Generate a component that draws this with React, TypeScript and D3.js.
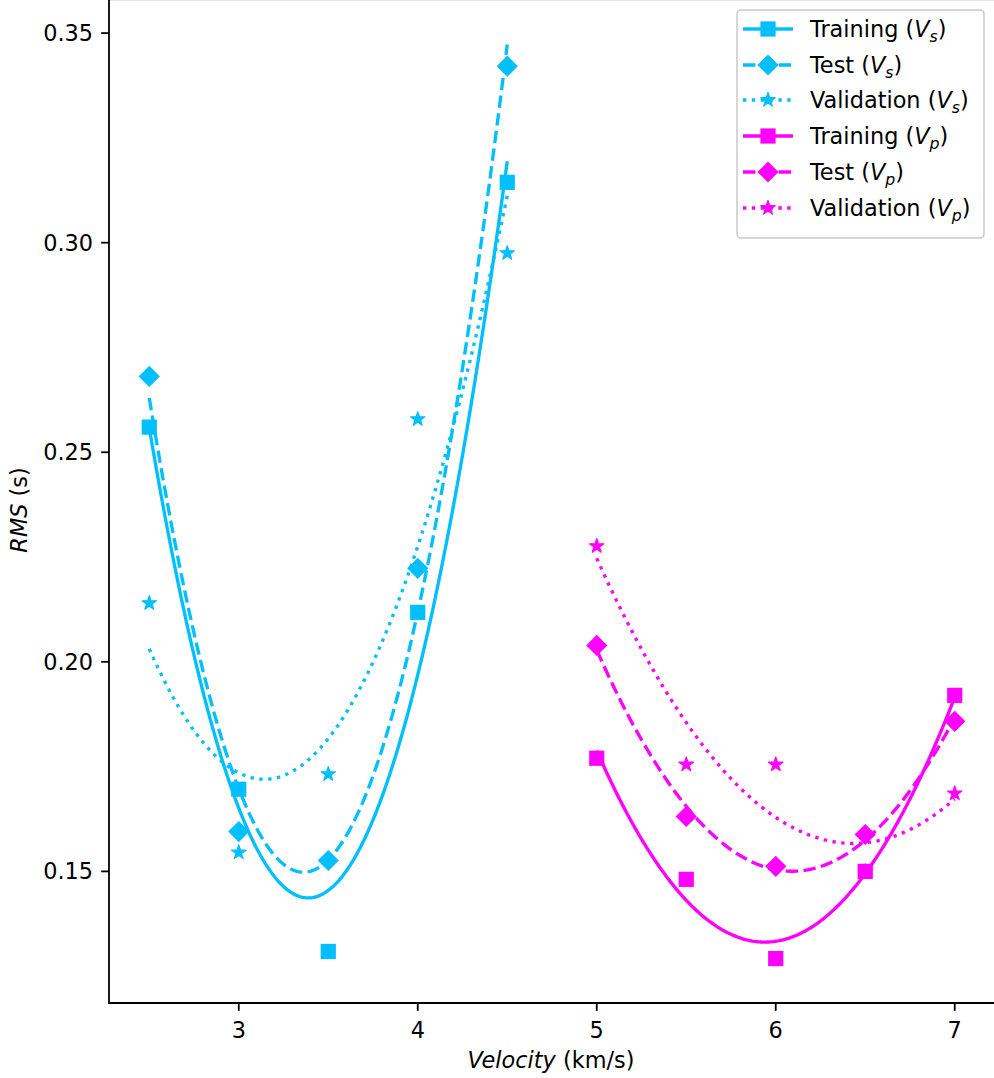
import React from 'react';
import * as d3 from 'd3';

const W = 994;
const H = 1078;

// velocities sampled for the two wave types
const xVs = [2.5, 3, 3.5, 4, 4.5];
const xVp = [5, 5.5, 6, 6.5, 7];

// RMS values
const trainVs = [0.256, 0.1696, 0.1309, 0.2118, 0.3144];
const testVs = [0.2681, 0.1595, 0.1526, 0.2223, 0.3421];
const validVs = [0.214, 0.1545, 0.1732, 0.2579, 0.2975];
const trainVp = [0.177, 0.1481, 0.1292, 0.15, 0.192];
const testVp = [0.2039, 0.1631, 0.1512, 0.1588, 0.1858];
const validVp = [0.2276, 0.1755, 0.1755, 0.15, 0.1686];

const xTicks = [3, 4, 5, 6, 7];
const yTicks = [0.15, 0.2, 0.25, 0.3, 0.35];

const CYAN = '#00bfff';
const MAGENTA = '#ff00ff';
const FONT = '"DejaVu Sans", sans-serif';
const FS = 22.4;
const LW = 3.35;
const DASHED = '12.4,5.4';
const DOTTED = '3.35,5.5';

// least squares quadratic fit, like np.polyfit(x, y, 2)
function quadFit(xs: number[], ys: number[]) {
  const s = [0, 0, 0, 0, 0];
  const t = [0, 0, 0];
  xs.forEach((x, i) => {
    for (let k = 0; k < 5; k++) s[k] += Math.pow(x, k);
    for (let k = 0; k < 3; k++) t[k] += Math.pow(x, k) * ys[i];
  });
  const m = [
    [s[0], s[1], s[2], t[0]],
    [s[1], s[2], s[3], t[1]],
    [s[2], s[3], s[4], t[2]],
  ];
  for (let c = 0; c < 3; c++) {
    for (let r = c + 1; r < 3; r++) {
      const f = m[r][c] / m[c][c];
      for (let k = c; k < 4; k++) m[r][k] -= f * m[c][k];
    }
  }
  const co = [0, 0, 0];
  for (let r = 2; r >= 0; r--) {
    let v = m[r][3];
    for (let k = r + 1; k < 3; k++) v -= m[r][k] * co[k];
    co[r] = v / m[r][r];
  }
  return (x: number) => co[0] + co[1] * x + co[2] * x * x;
}

const x = d3.scaleLinear().domain([2.275, 7.225]).range([109, 995]);
const y = d3.scaleLinear().domain([0.1186, 0.3579]).range([1003, 0]);

type Kind = 'square' | 'diamond' | 'star';

const series = [
  { label: 'Training', sub: 's', xs: xVs, ys: trainVs, color: CYAN, dash: '', kind: 'square' as Kind },
  { label: 'Test', sub: 's', xs: xVs, ys: testVs, color: CYAN, dash: DASHED, kind: 'diamond' as Kind },
  { label: 'Validation', sub: 's', xs: xVs, ys: validVs, color: CYAN, dash: DOTTED, kind: 'star' as Kind },
  { label: 'Training', sub: 'p', xs: xVp, ys: trainVp, color: MAGENTA, dash: '', kind: 'square' as Kind },
  { label: 'Test', sub: 'p', xs: xVp, ys: testVp, color: MAGENTA, dash: DASHED, kind: 'diamond' as Kind },
  { label: 'Validation', sub: 'p', xs: xVp, ys: validVp, color: MAGENTA, dash: DOTTED, kind: 'star' as Kind },
];

const starPath = d3.symbol(d3.symbolStar, 64)()!;

function Marker({ kind, cx, cy, color }: { kind: Kind; cx: number; cy: number; color: string }) {
  if (kind === 'square') {
    return <rect x={cx - 7.6} y={cy - 7.6} width={15.2} height={15.2} fill={color} />;
  }
  if (kind === 'diamond') {
    const r = 10.6;
    return <path d={`M${cx},${cy - r}L${cx + r},${cy}L${cx},${cy + r}L${cx - r},${cy}Z`} fill={color} />;
  }
  return <path d={starPath} transform={`translate(${cx},${cy})`} fill={color} stroke={color} strokeWidth={1.2} strokeLinejoin="round" />;
}

const line = d3
  .line<[number, number]>()
  .x((d) => x(d[0]))
  .y((d) => y(d[1]));

const markerOrder: Kind[] = ['star', 'diamond', 'square'];

export default function App() {
  const curves = series.map((s) => {
    const f = quadFit(s.xs, s.ys);
    const x0 = s.xs[0];
    const x1 = s.xs[s.xs.length - 1];
    const pts: [number, number][] = d3.range(0, 201).map((i) => {
      const xv = x0 + ((x1 - x0) * i) / 200;
      return [xv, f(xv)];
    });
    return line(pts)!;
  });

  const legX = 737;
  const legY = 10;
  const rowY = [29, 65, 100, 136, 172, 208];

  return (
    <svg
      width={W}
      height={H}
      style={{ position: 'absolute', left: 0, top: 0, background: '#fff' }}
      fontFamily={FONT}
    >
      <rect x={0} y={0} width={W} height={H} fill="#fff" />
      {/* top spine, mostly cut off */}
      <line x1={109} x2={W} y1={0.5} y2={0.5} stroke="#e4e4e4" strokeWidth={1} />

      {/* fitted curves */}
      {series.map((s, i) => (
        <path key={'c' + i} d={curves[i]} fill="none" stroke={s.color} strokeWidth={LW} strokeDasharray={s.dash || undefined} />
      ))}

      {/* measured points */}
      {markerOrder.map((k) =>
        series
          .filter((s) => s.kind === k)
          .map((s, i) =>
            s.xs.map((xv, j) => (
              <Marker key={k + i + '-' + j} kind={k} cx={x(xv)} cy={y(s.ys[j])} color={s.color} />
            ))
          )
      )}

      {/* axes */}
      <line x1={109} x2={109} y1={0} y2={1003} stroke="#000" strokeWidth={1.8} />
      <line x1={108.1} x2={W} y1={1003} y2={1003} stroke="#000" strokeWidth={1.8} />
      {yTicks.map((t) => (
        <g key={'y' + t}>
          <line x1={101.2} x2={109} y1={y(t)} y2={y(t)} stroke="#000" strokeWidth={1.8} />
          <text x={93} y={y(t)} dy="0.36em" textAnchor="end" fontSize={FS} fill="#000">
            {d3.format('.2f')(t)}
          </text>
        </g>
      ))}
      {xTicks.map((t) => (
        <g key={'x' + t}>
          <line x1={x(t)} x2={x(t)} y1={1003} y2={1010.8} stroke="#000" strokeWidth={1.8} />
          <text x={x(t)} y={1038} textAnchor="middle" fontSize={FS} fill="#000">
            {t}
          </text>
        </g>
      ))}
      <text x={551} y={1068} textAnchor="middle" fontSize={FS} fill="#000">
        <tspan fontStyle="italic">Velocity</tspan>
        <tspan> (km/s)</tspan>
      </text>
      <text transform="translate(27,510) rotate(-90)" textAnchor="middle" fontSize={FS} fill="#000">
        <tspan fontStyle="italic">RMS</tspan>
        <tspan> (s)</tspan>
      </text>

      {/* legend */}
      <rect x={legX} y={legY} width={247} height={228} rx={4} fill="#fff" fillOpacity={0.8} stroke="#cccccc" strokeWidth={1.6} />
      {series.map((s, i) => (
        <g key={'l' + i}>
          <line x1={743} x2={793} y1={rowY[i]} y2={rowY[i]} stroke={s.color} strokeWidth={LW} strokeDasharray={s.dash || undefined} />
          <Marker kind={s.kind} cx={768} cy={rowY[i]} color={s.color} />
          <text x={810} y={rowY[i] + 8} fontSize={FS} fill="#000">
            <tspan>{s.label} (</tspan>
            <tspan fontStyle="italic">V</tspan>
            <tspan fontStyle="italic" fontSize={15.7} dy={4.5}>
              {s.sub}
            </tspan>
            <tspan dy={-4.5}>)</tspan>
          </text>
        </g>
      ))}
    </svg>
  );
}
